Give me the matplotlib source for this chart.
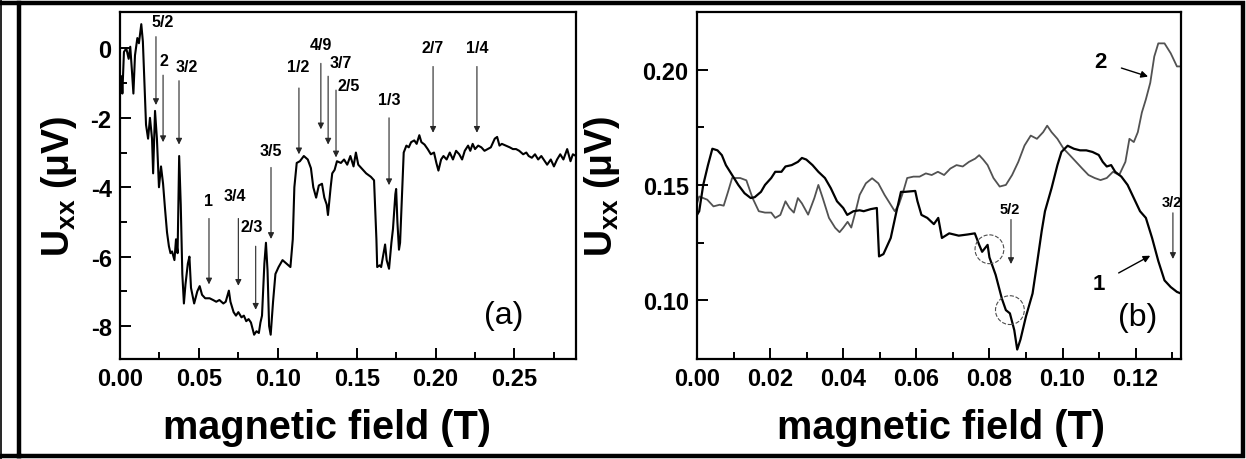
import matplotlib

matplotlib.use("Agg")
import matplotlib.pyplot as plt
from matplotlib.lines import Line2D

plt.rcParams.update({
    "font.family": ["Liberation Sans", "DejaVu Sans"],
    "font.weight": "bold",
    "mathtext.fontset": "custom",
    "mathtext.bf": "Liberation Sans:bold",
    "mathtext.rm": "Liberation Sans:bold",
    "mathtext.it": "Liberation Sans:bold",
    "axes.linewidth": 1.6,
})

# ---- panel (a): Uxx vs B ----
field_a = [0.000, 0.001, 0.0015, 0.0025, 0.004, 0.0055, 0.0065, 0.0075, 0.0085, 0.0095,
           0.011, 0.012, 0.0135, 0.0145, 0.0155, 0.0165, 0.0178, 0.019, 0.0203, 0.021,
           0.0222, 0.0234, 0.0247, 0.026, 0.0273, 0.0285, 0.0298, 0.031, 0.032, 0.033,
           0.0345, 0.0355, 0.0365, 0.0375, 0.0385, 0.0395, 0.0405, 0.0415, 0.043, 0.044,
           0.045, 0.047, 0.049, 0.0505, 0.052, 0.054, 0.0568, 0.059, 0.061, 0.063,
           0.0655, 0.067, 0.069, 0.070, 0.072, 0.0735, 0.075, 0.077, 0.0785, 0.080,
           0.0815, 0.083, 0.085, 0.0865, 0.088, 0.089, 0.090, 0.0915, 0.0925, 0.0935,
           0.0945, 0.0955, 0.097, 0.0985, 0.1005, 0.103, 0.1055, 0.108, 0.1095, 0.1105,
           0.112, 0.114, 0.1165, 0.119, 0.121, 0.1225, 0.1243, 0.126, 0.128, 0.1295,
           0.131, 0.1318, 0.1335, 0.1345, 0.136, 0.1375, 0.140, 0.142, 0.144, 0.146,
           0.148, 0.1495, 0.151, 0.153, 0.156, 0.159, 0.161, 0.1625, 0.163, 0.1645,
           0.1655, 0.167, 0.168, 0.169, 0.1705, 0.172, 0.173, 0.1745, 0.175, 0.1758,
           0.1768, 0.1775, 0.1785, 0.1798, 0.1815, 0.183, 0.1845, 0.1865, 0.188, 0.1897,
           0.191, 0.193, 0.195, 0.197, 0.199, 0.2005, 0.2018, 0.2035, 0.205, 0.207,
           0.209, 0.211, 0.213, 0.215, 0.2168, 0.2185, 0.2206, 0.222, 0.2235, 0.225,
           0.227, 0.229, 0.231, 0.233, 0.235, 0.2375, 0.239, 0.2405, 0.242, 0.2445,
           0.247, 0.249, 0.251, 0.253, 0.2555, 0.2575, 0.259, 0.261, 0.263, 0.265,
           0.267, 0.2707, 0.273, 0.275, 0.277, 0.279, 0.281, 0.2834, 0.2855, 0.287, 0.289]
uxx_a = [-1.2, -0.8, -1.3, -0.1, 0.0, -0.3, 0.05, -0.6, -1.3, -0.2,
         0.3, 0.15, 0.7, 0.2, -1.0, -2.2, -2.6, -2.0, -2.6, -3.6,
         -1.8, -2.6, -4.0, -3.4, -3.9, -4.6, -5.3, -5.7, -5.9, -5.85,
         -6.1, -5.5, -5.9, -3.1, -4.5, -6.5, -7.35, -6.8, -6.2, -6.0,
         -6.9, -7.35, -7.0, -6.85, -7.1, -7.2, -7.2, -7.25, -7.3, -7.25,
         -7.35, -7.3, -6.98, -7.3, -7.6, -7.7, -7.6, -7.75, -7.7, -7.86,
         -7.8, -7.9, -8.25, -8.15, -8.2, -7.9, -7.7, -6.2, -5.6, -6.4,
         -8.0, -8.25, -7.3, -6.5, -6.3, -6.1, -6.2, -6.3, -5.5, -4.0,
         -3.3, -3.25, -3.1, -3.2, -3.45, -4.0, -4.3, -3.95, -3.9, -4.3,
         -4.5, -4.8, -4.0, -3.6, -3.5, -3.25, -3.3, -3.2, -3.35, -3.1,
         -3.4, -3.0, -3.35, -3.45, -3.6, -3.7, -3.8, -5.5, -6.3, -6.25,
         -6.3, -5.9, -5.65, -6.1, -6.35, -5.6, -5.2, -4.2, -4.05, -5.0,
         -5.8, -5.6, -4.5, -3.0, -2.8, -2.85, -2.7, -2.65, -2.75, -2.5,
         -2.7, -2.77, -2.9, -3.05, -3.0, -3.3, -3.52, -3.2, -3.1, -3.2,
         -3.0, -3.2, -2.95, -3.05, -3.2, -2.95, -2.8, -2.95, -2.75, -2.9,
         -2.8, -2.85, -2.95, -2.9, -2.85, -2.6, -2.55, -2.8, -2.75, -2.8,
         -2.85, -2.9, -2.9, -2.95, -3.05, -3.0, -3.1, -3.15, -3.05, -3.2,
         -3.1, -3.35, -3.2, -3.4, -3.2, -3.05, -3.2, -2.9, -3.25, -3.05, -3.1]

# filling-factor markers in (a): label, field, arrow top, arrow tip, label x, label y
nu_a = ["5/2", "2", "3/2", "1", "3/4", "2/3", "3/5", "1/2", "4/9", "3/7", "2/5", "1/3", "2/7", "1/4"]
nu_a_field = [0.0228, 0.0273, 0.0374, 0.0564, 0.0750, 0.0860, 0.0957, 0.1134, 0.1273, 0.1319,
              0.1369, 0.1705, 0.1984, 0.2262]
nu_a_top = [0.34, -0.77, -0.93, -4.9, -4.9, -5.7, -3.43, -1.14, -0.43, -0.8, -1.2, -2.0, -0.52, -0.52]
nu_a_tip = [-1.63, -2.7, -2.77, -6.8, -6.84, -7.53, -5.49, -3.05, -2.33, -2.77, -3.14, -3.94, -2.43, -2.43]
nu_a_lx = [0.0268, 0.0281, 0.0425, 0.0558, 0.0729, 0.0836, 0.0957, 0.1131, 0.1273, 0.1398,
           0.1448, 0.1705, 0.1984, 0.2262]
nu_a_ly = [0.55, -0.55, -0.75, -4.6, -4.45, -5.35, -3.15, -0.75, -0.1, -0.62, -1.28, -1.68, -0.18, -0.18]

# ---- panel (b): two sweeps ----
field_b1 = [0.0, 0.0006, 0.0017, 0.003, 0.0042, 0.0056, 0.0068, 0.0079, 0.0096, 0.0113,
            0.013, 0.0147, 0.0158, 0.0175, 0.0186, 0.0203, 0.0214, 0.0231, 0.0242, 0.0259,
            0.0276, 0.0287, 0.0299, 0.0316, 0.0332, 0.035, 0.0366, 0.0383, 0.040, 0.0411,
            0.0428, 0.0445, 0.0456, 0.0475, 0.0492, 0.0498, 0.051, 0.053, 0.0545, 0.0558,
            0.0569, 0.0597, 0.0603, 0.0614, 0.063, 0.0648, 0.066, 0.067, 0.069, 0.0716,
            0.074, 0.076, 0.0772, 0.078, 0.0795, 0.080, 0.0817, 0.0834, 0.0845, 0.0856,
            0.0868, 0.0876, 0.0885, 0.090, 0.0918, 0.093, 0.0943, 0.0952, 0.097, 0.0986,
            0.0997, 0.1014, 0.1031, 0.1048, 0.1065, 0.1082, 0.1099, 0.111, 0.1121, 0.1133,
            0.1144, 0.1161, 0.1178, 0.1195, 0.1212, 0.1228, 0.1245, 0.1262, 0.1279, 0.1296,
            0.1313, 0.1324]
uxx_b1 = [0.137, 0.1386, 0.150, 0.1586, 0.1657, 0.165, 0.1629, 0.1586, 0.1543, 0.150,
          0.1464, 0.1443, 0.1447, 0.147, 0.150, 0.153, 0.1557, 0.1557, 0.158, 0.1586,
          0.160, 0.1617, 0.161, 0.1586, 0.1557, 0.153, 0.1486, 0.1429, 0.140, 0.137,
          0.1386, 0.139, 0.1386, 0.1395, 0.140, 0.119, 0.120, 0.127, 0.138, 0.147,
          0.147, 0.1474, 0.143, 0.137, 0.1357, 0.133, 0.1357, 0.127, 0.129, 0.128,
          0.1285, 0.129, 0.124, 0.121, 0.124, 0.1186, 0.111, 0.1007, 0.0957, 0.0943,
          0.087, 0.0786, 0.083, 0.093, 0.1029, 0.1157, 0.130, 0.1386, 0.1486, 0.1586,
          0.1643, 0.167, 0.1657, 0.165, 0.165, 0.1643, 0.163, 0.160, 0.158, 0.1586,
          0.1557, 0.1536, 0.150, 0.1443, 0.1386, 0.1357, 0.127, 0.117, 0.1086, 0.1057,
          0.1036, 0.1029]

field_b2 = [0.0, 0.0006, 0.0028, 0.0045, 0.0062, 0.0073, 0.0085, 0.0096, 0.0118, 0.0135,
            0.0152, 0.0169, 0.0186, 0.0203, 0.0214, 0.0228, 0.0242, 0.0253, 0.0265, 0.0276,
            0.0287, 0.0304, 0.0321, 0.0332, 0.0344, 0.0361, 0.0378, 0.039, 0.040, 0.0412,
            0.0422, 0.0434, 0.0445, 0.0462, 0.0479, 0.0496, 0.0513, 0.053, 0.0541, 0.0552,
            0.0564, 0.0575, 0.0592, 0.0609, 0.0626, 0.0642, 0.0659, 0.0676, 0.0693, 0.071,
            0.0727, 0.0744, 0.0761, 0.0772, 0.0783, 0.0795, 0.0811, 0.0828, 0.0845, 0.0862,
            0.0879, 0.0896, 0.0913, 0.093, 0.0947, 0.0958, 0.097, 0.0986, 0.1003, 0.102,
            0.1037, 0.1054, 0.1071, 0.1088, 0.1104, 0.1121, 0.1138, 0.1155, 0.1172, 0.1183,
            0.1195, 0.1206, 0.1217, 0.1228, 0.124, 0.1251, 0.1262, 0.1279, 0.1296, 0.1313,
            0.1324]
uxx_b2 = [0.142, 0.145, 0.1436, 0.1407, 0.1414, 0.141, 0.1471, 0.153, 0.153, 0.152,
          0.1443, 0.1386, 0.138, 0.138, 0.1357, 0.137, 0.1429, 0.140, 0.138, 0.1443,
          0.142, 0.1371, 0.1443, 0.150, 0.1443, 0.1357, 0.1314, 0.1295, 0.1314, 0.134,
          0.1315, 0.1386, 0.1457, 0.1507, 0.1529, 0.1507, 0.1457, 0.1414, 0.1386, 0.1414,
          0.147, 0.153, 0.1536, 0.1536, 0.155, 0.1543, 0.1557, 0.1543, 0.1571, 0.1586,
          0.158, 0.160, 0.1614, 0.1629, 0.161, 0.1586, 0.153, 0.1493, 0.150, 0.1543,
          0.160, 0.1671, 0.1714, 0.170, 0.1729, 0.1757, 0.1729, 0.170, 0.1657, 0.1629,
          0.160, 0.1571, 0.1543, 0.153, 0.1521, 0.153, 0.1557, 0.1543, 0.160, 0.170,
          0.1686, 0.1729, 0.1814, 0.1871, 0.1943, 0.2057, 0.2114, 0.2114, 0.2071, 0.2014,
          0.2014]

nu_b = ["5/2", "3/2"]
nu_b_field = [0.0859, 0.1302]
nu_b_top = [0.135, 0.1379]
nu_b_tip = [0.1157, 0.1179]
circle_field = [0.0800, 0.0856]
circle_uxx = [0.1221, 0.0957]

fig = plt.figure(figsize=(12.46, 4.60), dpi=100)
ax_a = fig.add_axes([0.0963, 0.2174, 0.3660, 0.7543])
ax_b = fig.add_axes([0.5594, 0.2174, 0.3884, 0.7543])

arrow_kw = dict(arrowstyle="-|>", color="0.15", lw=0.8, mutation_scale=9, shrinkA=0, shrinkB=0)

# panel (a)
ax_a.plot(field_a, uxx_a, color="black", lw=1.5)
for lab, fx, y0, y1, lx, ly in zip(nu_a, nu_a_field, nu_a_top, nu_a_tip, nu_a_lx, nu_a_ly):
    ax_a.annotate("", xy=(fx, y1), xytext=(fx, y0), arrowprops=arrow_kw)
    ax_a.text(lx, ly, lab, ha="center", va="bottom", fontsize=11.5, fontweight="bold")
ax_a.text(0.243, -7.67, "(a)", fontsize=23, fontweight="normal", ha="center", va="center")
ax_a.set_xlim(0, 0.289)
ax_a.set_ylim(-8.95, 1.05)
ax_a.set_xticks([0.00, 0.05, 0.10, 0.15, 0.20, 0.25])
ax_a.set_xticks([0.025, 0.075, 0.125, 0.175, 0.225, 0.275], minor=True)
ax_a.set_yticks([0, -2, -4, -6, -8])
ax_a.set_yticks([-1, -3, -5, -7], minor=True)
ax_a.set_xticklabels(["0.00", "0.05", "0.10", "0.15", "0.20", "0.25"])
ax_a.set_yticklabels(["0", "-2", "-4", "-6", "-8"])

# panel (b)
ax_b.plot(field_b2, uxx_b2, color="0.32", lw=1.3)
ax_b.plot(field_b1, uxx_b1, color="black", lw=1.6)
for lab, fx, y0, y1 in zip(nu_b, nu_b_field, nu_b_top, nu_b_tip):
    ax_b.annotate("", xy=(fx, y1), xytext=(fx, y0), arrowprops=arrow_kw)
    ax_b.text(fx - 0.0003, y0 + 0.0015, lab, ha="center", va="bottom", fontsize=10.5, fontweight="bold")
ax_b.scatter(circle_field, circle_uxx, s=430, facecolors="none", edgecolors="0.3",
             linestyles="--", linewidths=0.8, zorder=4)
ax_b.annotate("2", xy=(0.1234, 0.197), xytext=(0.1104, 0.2036), fontsize=16, fontweight="bold",
              ha="center", va="center",
              arrowprops=dict(arrowstyle="-|>", color="black", lw=1.0, mutation_scale=10,
                              shrinkA=9, shrinkB=0))
ax_b.annotate("1", xy=(0.124, 0.1193), xytext=(0.1099, 0.1071), fontsize=16, fontweight="bold",
              ha="center", va="center",
              arrowprops=dict(arrowstyle="-|>", color="black", lw=1.0, mutation_scale=10,
                              shrinkA=9, shrinkB=0))
ax_b.text(0.1206, 0.0929, "(b)", fontsize=23, fontweight="normal", ha="center", va="center")
ax_b.set_xlim(0, 0.1324)
ax_b.set_ylim(0.0745, 0.225)
ax_b.set_xticks([0.00, 0.02, 0.04, 0.06, 0.08, 0.10, 0.12])
ax_b.set_xticks([0.01, 0.03, 0.05, 0.07, 0.09, 0.11, 0.13], minor=True)
ax_b.set_yticks([0.10, 0.15, 0.20])
ax_b.set_yticks([0.125, 0.175], minor=True)
ax_b.set_xticklabels(["0.00", "0.02", "0.04", "0.06", "0.08", "0.10", "0.12"])
ax_b.set_yticklabels(["0.10", "0.15", "0.20"])

for ax in (ax_a, ax_b):
    ax.tick_params(which="both", direction="in", top=False, right=False,
                   labelsize=17, width=1.4, pad=6)
    ax.tick_params(which="major", length=8)
    ax.tick_params(which="minor", length=5)
    for t in ax.get_xticklabels() + ax.get_yticklabels():
        t.set_fontweight("bold")
    ax.set_xlabel("magnetic field (T)", fontsize=28.5, fontweight="bold")
    ax.set_ylabel(r"$\mathbf{U_{xx}}$ (μV)", fontsize=27, fontweight="bold", labelpad=8)
ax_a.xaxis.set_label_coords(0.455, -0.14)
ax_b.xaxis.set_label_coords(0.505, -0.14)
ax_b.yaxis.set_label_coords(-0.155, 0.5)

# outer frame of the figure panel
fig.add_artist(Line2D([0.0012, 0.0012], [0, 1], transform=fig.transFigure, color="black", lw=1.2))
frame_x = [19 / 1246, 1243 / 1246, 1243 / 1246, 19 / 1246, 19 / 1246]
frame_y = [1 - 457 / 460, 1 - 457 / 460, 1 - 3.5 / 460, 1 - 3.5 / 460, 1 - 457 / 460]
fig.add_artist(Line2D(frame_x, frame_y, transform=fig.transFigure, color="black", lw=3.2,
                      solid_joinstyle="miter"))
fig.add_artist(Line2D([0, 19 / 1246], [1 - 3.5 / 460] * 2, transform=fig.transFigure,
                      color="black", lw=3.2))
fig.add_artist(Line2D([0, 19 / 1246], [1 - 457 / 460] * 2, transform=fig.transFigure,
                      color="black", lw=3.2))

fig.savefig("out.png", dpi=100)
